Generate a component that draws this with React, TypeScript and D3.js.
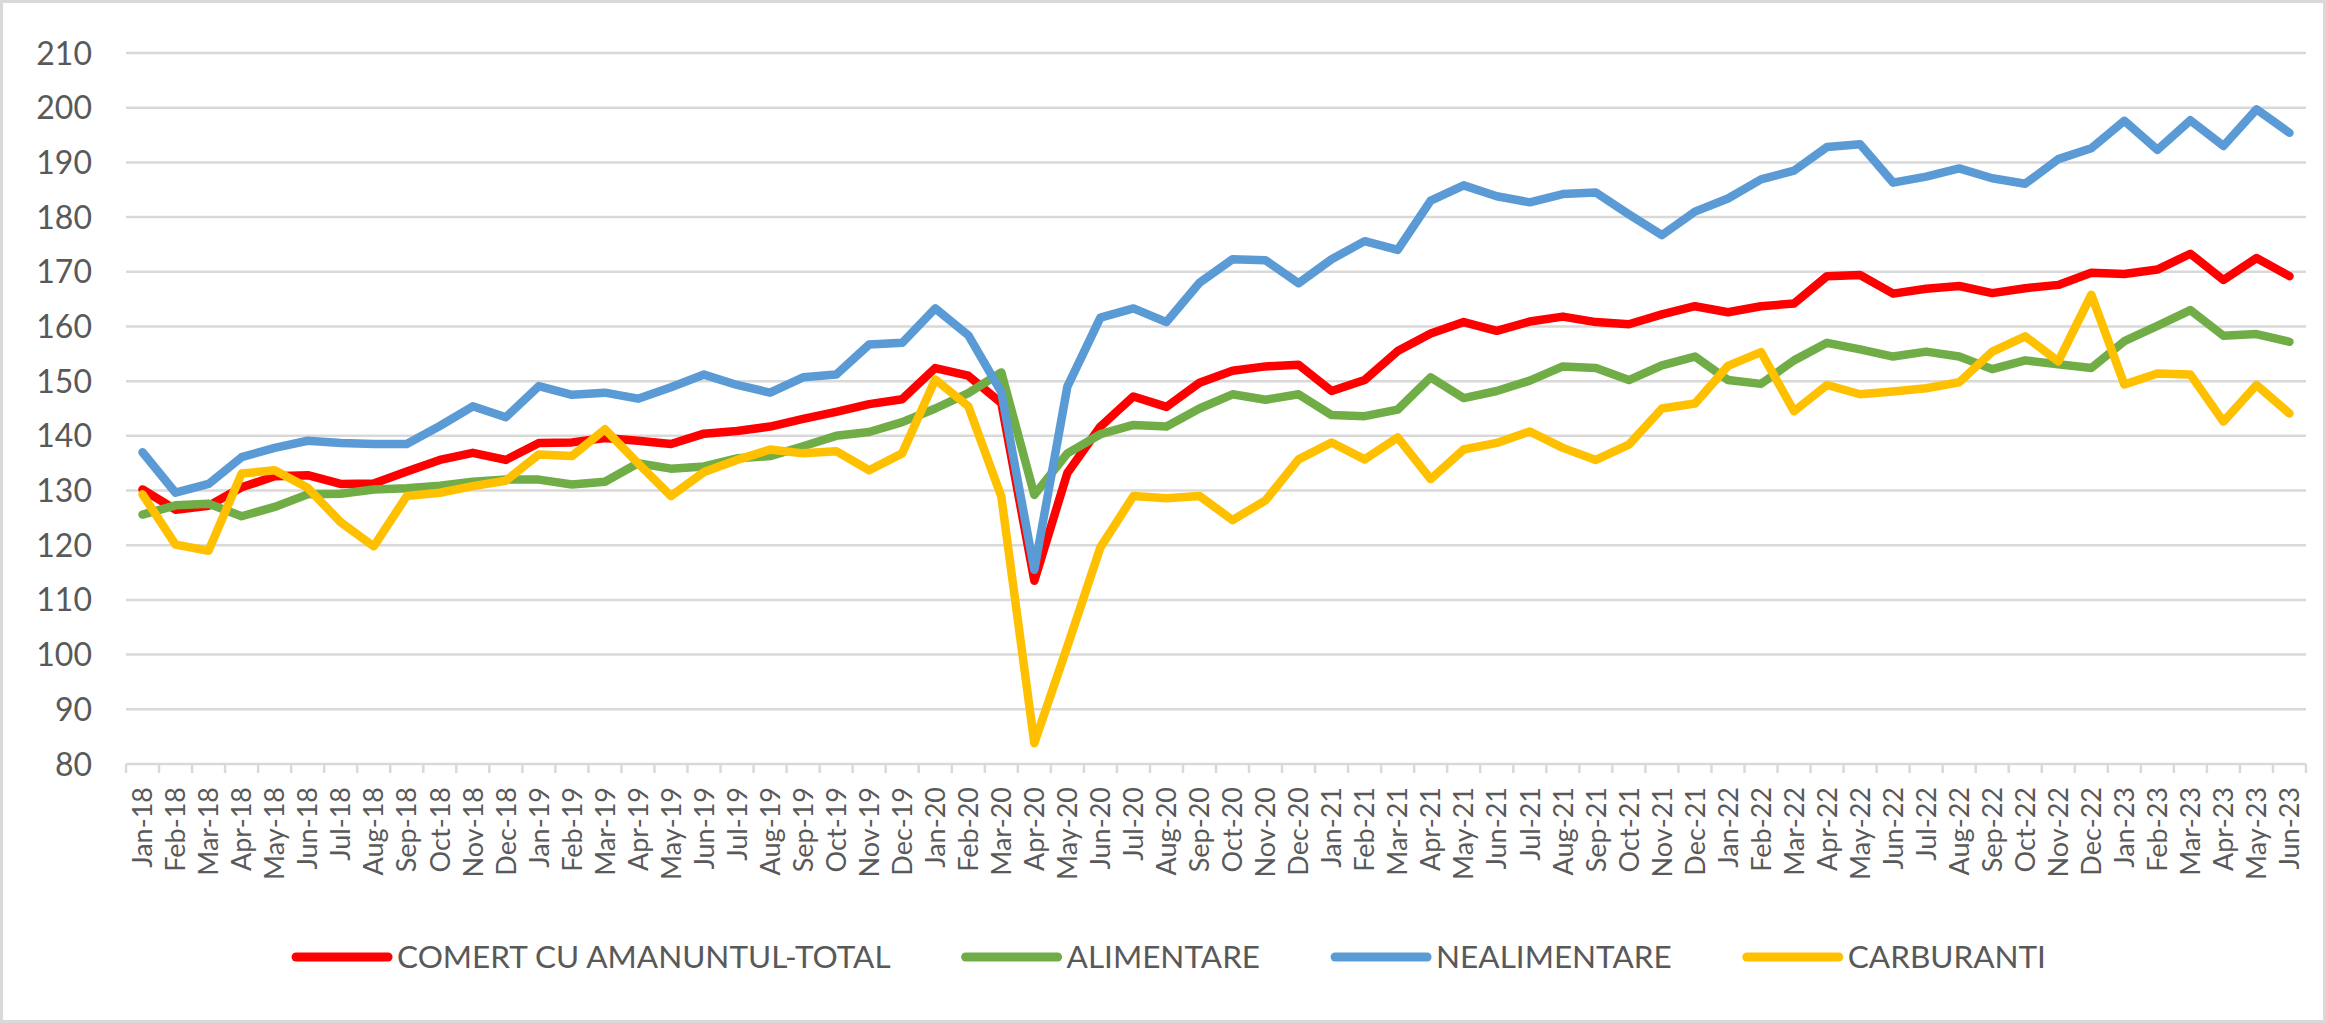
import { useRef, useEffect } from 'react';
import * as d3 from 'd3';

const months = [
  'Jan-18', 'Feb-18', 'Mar-18', 'Apr-18', 'May-18', 'Jun-18', 'Jul-18', 'Aug-18', 'Sep-18', 'Oct-18', 'Nov-18', 'Dec-18',
  'Jan-19', 'Feb-19', 'Mar-19', 'Apr-19', 'May-19', 'Jun-19', 'Jul-19', 'Aug-19', 'Sep-19', 'Oct-19', 'Nov-19', 'Dec-19',
  'Jan-20', 'Feb-20', 'Mar-20', 'Apr-20', 'May-20', 'Jun-20', 'Jul-20', 'Aug-20', 'Sep-20', 'Oct-20', 'Nov-20', 'Dec-20',
  'Jan-21', 'Feb-21', 'Mar-21', 'Apr-21', 'May-21', 'Jun-21', 'Jul-21', 'Aug-21', 'Sep-21', 'Oct-21', 'Nov-21', 'Dec-21',
  'Jan-22', 'Feb-22', 'Mar-22', 'Apr-22', 'May-22', 'Jun-22', 'Jul-22', 'Aug-22', 'Sep-22', 'Oct-22', 'Nov-22', 'Dec-22',
  'Jan-23', 'Feb-23', 'Mar-23', 'Apr-23', 'May-23', 'Jun-23',
];

const comertTotal = [
  130.2, 126.5, 127.2, 130.6, 132.6, 132.8, 131.2, 131.3, 133.5, 135.6, 136.9, 135.6,
  138.7, 138.8, 139.6, 139.1, 138.5, 140.4, 140.9, 141.7, 143.1, 144.4, 145.8, 146.7,
  152.4, 151.0, 146.0, 113.5, 133.2, 141.7, 147.2, 145.3, 149.7, 151.9, 152.7, 153.0,
  148.2, 150.2, 155.5, 158.7, 160.8, 159.2, 160.9, 161.8, 160.8, 160.4, 162.2, 163.7,
  162.6, 163.7, 164.2, 169.2, 169.4, 166.0, 166.9, 167.4, 166.1, 167.0, 167.6, 169.8,
  169.6, 170.4, 173.3, 168.5, 172.5, 169.2,
];

const alimentare = [
  125.6, 127.3, 127.6, 125.3, 127.0, 129.3, 129.4, 130.2, 130.4, 130.9, 131.6, 132.0,
  132.0, 131.1, 131.6, 135.0, 134.0, 134.4, 135.9, 136.3, 138.1, 140.0, 140.7, 142.5,
  145.0, 147.8, 151.6, 129.2, 136.8, 140.3, 142.0, 141.7, 145.0, 147.6, 146.6, 147.6,
  143.8, 143.6, 144.8, 150.7, 146.9, 148.2, 150.1, 152.7, 152.4, 150.2, 152.9, 154.5,
  150.2, 149.5, 153.8, 157.0, 155.8, 154.5, 155.4, 154.5, 152.2, 153.8, 153.1, 152.4,
  157.3, 160.1, 163.0, 158.3, 158.6, 157.2,
];

const nealimentare = [
  137.0, 129.6, 131.2, 136.1, 137.8, 139.1, 138.7, 138.5, 138.5, 141.8, 145.4, 143.4,
  149.1, 147.5, 147.9, 146.8, 148.9, 151.2, 149.3, 147.9, 150.7, 151.2, 156.7, 157.0,
  163.3, 158.4, 148.0, 115.5, 149.0, 161.6, 163.3, 160.8, 168.0, 172.3, 172.1, 167.9,
  172.3, 175.6, 174.0, 183.0, 185.8, 183.8, 182.7, 184.2, 184.5, 180.5, 176.7, 181.0,
  183.4, 186.9, 188.5, 192.8, 193.3, 186.3, 187.4, 188.9, 187.1, 186.1, 190.6, 192.6,
  197.6, 192.3, 197.7, 193.0, 199.7, 195.4,
];

const carburanti = [
  129.3, 120.1, 119.0, 133.1, 133.7, 130.5, 124.2, 119.8, 129.0, 129.6, 130.8, 131.8,
  136.6, 136.3, 141.2, 135.0, 129.0, 133.4, 135.6, 137.5, 136.8, 137.2, 133.7, 136.8,
  150.3, 145.4, 128.9, 83.8, 101.5, 119.6, 129.0, 128.6, 129.0, 124.6, 128.2, 135.7,
  138.8, 135.7, 139.7, 132.1, 137.5, 138.7, 140.8, 137.8, 135.6, 138.4, 145.0, 145.9,
  152.8, 155.3, 144.5, 149.3, 147.6, 148.1, 148.7, 149.8, 155.4, 158.2, 153.6, 165.8,
  149.4, 151.4, 151.2, 142.6, 149.3, 144.1,
];

const yTicks = [80, 90, 100, 110, 120, 130, 140, 150, 160, 170, 180, 190, 200, 210];

const series = [
  { name: 'COMERT CU AMANUNTUL-TOTAL', values: comertTotal, color: '#FF0000' },
  { name: 'ALIMENTARE', values: alimentare, color: '#70AD47' },
  { name: 'NEALIMENTARE', values: nealimentare, color: '#5B9BD5' },
  { name: 'CARBURANTI', values: carburanti, color: '#FFC000' },
];

const WIDTH = 2326;
const HEIGHT = 1023;
const FONT = 'Lato, "Open Sans", sans-serif';
const TEXT_COLOR = '#595959';
const GRID_COLOR = '#D9D9D9';

function RetailChart() {
  const svgRef = useRef<SVGSVGElement>(null);

  useEffect(() => {
    if (!svgRef.current) return;
    const svg = d3.select(svgRef.current);
    svg.selectAll('*').remove();

    const plot = { left: 126, right: 2306, top: 53, bottom: 764 };

    // background + outer border
    svg.append('rect')
      .attr('x', 1.5).attr('y', 1.5)
      .attr('width', WIDTH - 3).attr('height', HEIGHT - 3)
      .attr('fill', '#fff')
      .attr('stroke', GRID_COLOR)
      .attr('stroke-width', 3);

    const x = d3.scaleBand<string>()
      .domain(months)
      .range([plot.left, plot.right])
      .padding(0);
    const cx = (m: string) => (x(m) || 0) + x.bandwidth() / 2;

    const y = d3.scaleLinear()
      .domain([80, 210])
      .range([plot.bottom, plot.top]);

    // horizontal grid
    svg.append('g')
      .selectAll('line')
      .data(yTicks.filter((t) => t !== 80))
      .enter()
      .append('line')
      .attr('x1', plot.left).attr('x2', plot.right)
      .attr('y1', (d) => y(d)).attr('y2', (d) => y(d))
      .attr('stroke', GRID_COLOR)
      .attr('stroke-width', 2.5);

    // y labels
    svg.append('g')
      .selectAll('text')
      .data(yTicks)
      .enter()
      .append('text')
      .attr('x', 92)
      .attr('y', (d) => y(d))
      .attr('dy', '0.36em')
      .attr('text-anchor', 'end')
      .attr('font-family', FONT)
      .attr('font-size', 32)
      .attr('fill', TEXT_COLOR)
      .text((d) => String(d));

    // x axis line + tick marks at category boundaries
    const xAxis = svg.append('g');
    xAxis.append('line')
      .attr('x1', plot.left).attr('x2', plot.right)
      .attr('y1', y(80)).attr('y2', y(80))
      .attr('stroke', GRID_COLOR)
      .attr('stroke-width', 2.5);
    const boundaries = [...months.map((m) => x(m) || 0), plot.right];
    xAxis.selectAll('.tick')
      .data(boundaries)
      .enter()
      .append('line')
      .attr('x1', (d) => d).attr('x2', (d) => d)
      .attr('y1', y(80)).attr('y2', y(80) + 9)
      .attr('stroke', GRID_COLOR)
      .attr('stroke-width', 2.5);

    xAxis.selectAll('.lbl')
      .data(months)
      .enter()
      .append('text')
      .attr('transform', (d) => `translate(${cx(d)},${y(80) + 23}) rotate(-90)`)
      .attr('dy', '0.36em')
      .attr('text-anchor', 'end')
      .attr('font-family', FONT)
      .attr('font-size', 27)
      .attr('fill', TEXT_COLOR)
      .text((d) => d);

    // lines, later series on top
    const line = d3.line<number>()
      .x((_, i) => cx(months[i]))
      .y((d) => y(d))
      .curve(d3.curveLinear);

    series.forEach((s) => {
      svg.append('path')
        .datum(s.values)
        .attr('d', line)
        .attr('fill', 'none')
        .attr('stroke', s.color)
        .attr('stroke-width', 8.5)
        .attr('stroke-linejoin', 'round')
        .attr('stroke-linecap', 'round');
    });

    // legend, measured and centred
    const legendY = 957;
    const swatch = 92;
    const swatchGap = 9;
    const itemGap = 75;
    const legend = svg.append('g');
    const items = series.map((s) => {
      const g = legend.append('g');
      g.append('line')
        .attr('x1', 0).attr('x2', swatch)
        .attr('y1', legendY).attr('y2', legendY)
        .attr('stroke', s.color)
        .attr('stroke-width', 9)
        .attr('stroke-linecap', 'round');
      const t = g.append('text')
        .attr('x', swatch + swatchGap)
        .attr('y', legendY)
        .attr('dy', '0.36em')
        .attr('font-family', FONT)
        .attr('font-size', 31.5)
        .attr('fill', TEXT_COLOR)
        .text(s.name);
      const w = (t.node() as SVGTextElement).getComputedTextLength();
      return { g, width: swatch + swatchGap + w };
    });
    const total = d3.sum(items, (d) => d.width) + itemGap * (items.length - 1);
    let pos = 1171 - total / 2;
    items.forEach((it) => {
      it.g.attr('transform', `translate(${pos},0)`);
      pos += it.width + itemGap;
    });
  }, []);

  return <svg ref={svgRef} width={WIDTH} height={HEIGHT} style={{ display: 'block' }} />;
}

export default function App() {
  return (
    <div style={{ position: 'absolute', left: 0, top: 0, background: '#fff' }}>
      <RetailChart />
    </div>
  );
}
